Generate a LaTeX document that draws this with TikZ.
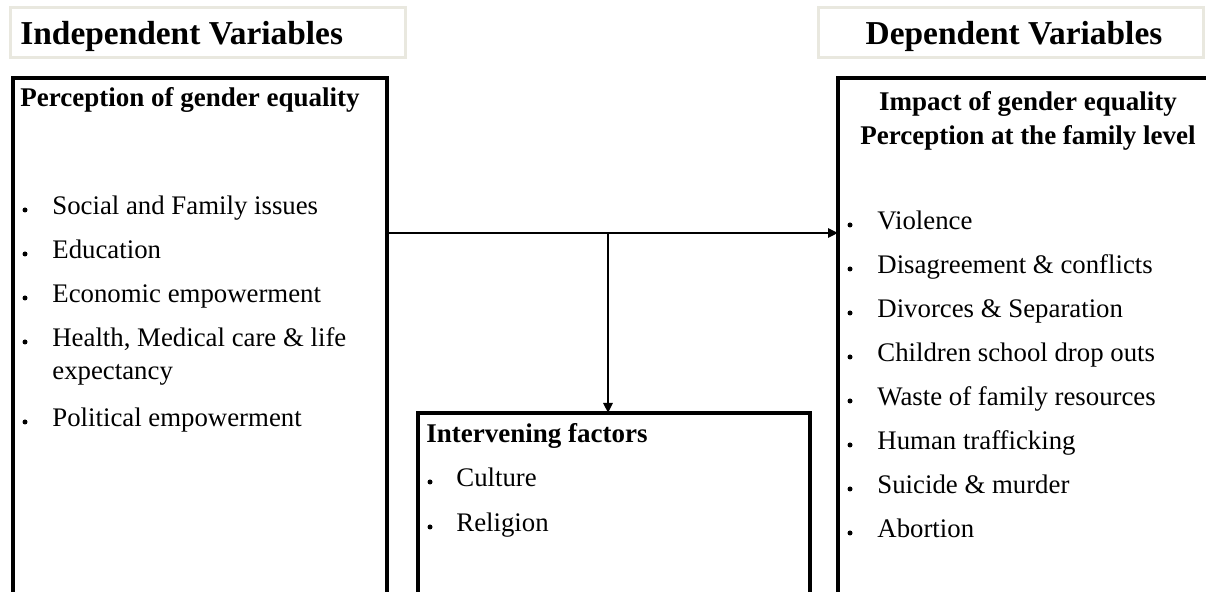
\documentclass[tikz,border=0pt]{standalone}
\usepackage{fontspec}
\setmainfont{Liberation Serif}
\usetikzlibrary{arrows.meta}
\definecolor{rahmengrau}{HTML}{E9E8DF}

\begin{document}
\begin{tikzpicture}[x=0.5pt,y=-0.5pt,
		kasten/.style={draw=black, line width=1.8pt, outer sep=0pt, inner sep=0pt, anchor=north west},
		kopf/.style={draw=rahmengrau, fill=white, line width=1.5pt, outer sep=0pt, inner sep=0pt, anchor=north west, minimum height=25pt},
		titel/.style={font=\fontsize{16.7}{20}\selectfont\bfseries, inner sep=0pt, anchor=base west},
		fett/.style={font=\fontsize{13.5}{17}\selectfont\bfseries, inner sep=0pt},
		eintrag/.style={font=\fontsize{13.4}{16.5}\selectfont, inner sep=0pt, anchor=base west},
		pfeil/.style={line width=1.4pt, -{Triangle[length=5pt,width=4.5pt]}}]
		\useasboundingbox (0,0) rectangle (1206,592);

		% Ueberschriften
		\node[kopf, minimum width=197.5pt] (kopfL) at (10,8) {};
		\node[kopf, minimum width=192.5pt] (kopfR) at (818,8) {};
		\node[titel] (titelL) at (20,45) {Independent Variables};
		\node[titel, anchor=base] (titelR) at (1014,45) {Dependent Variables};

		% Kaesten
		\node[kasten, minimum width=187pt, minimum height=271pt] (unabh) at (13,78) {};
		\node[kasten, minimum width=196pt, minimum height=271pt] (abh) at (838,78) {};
		\node[kasten, minimum width=196pt, minimum height=104pt] (interv) at (418,413) {};

		% Kopfzeilen
		\node[fett, anchor=base west] (kopfUnabh) at (20,107) {Perception of gender equality};
		\node[fett, align=center] (kopfAbh) at (1028,121) {Impact of gender equality\\Perception at the family level};
		\node[fett, anchor=base west] (kopfInterv) at (426,443) {Intervening factors};

		% Listen
		\foreach \y/\txt [count=\i] in {215/Social and Family issues, 259/Education, 303/Economic empowerment, 347/{Health, Medical care \& life}, 427/Political empowerment}{
			\fill (25,\y-5) circle (2.5);
			\node[eintrag] (einU\i) at (52,\y) {\txt};
		}
		\node[eintrag] (einU6) at (52,380) {expectancy};

		\foreach \y/\txt [count=\i] in {230/Violence, 274/Disagreement \& conflicts, 318/Divorces \& Separation, 362/Children school drop outs, 406/Waste of family resources, 450/Human trafficking, 494/Suicide \& murder, 538/Abortion}{
			\fill (850,\y-5) circle (2.5);
			\node[eintrag] (einA\i) at (877,\y) {\txt};
		}

		\foreach \y/\txt [count=\i] in {487/Culture, 532/Religion}{
			\fill (430,\y-5) circle (2.5);
			\node[eintrag] (einI\i) at (456,\y) {\txt};
		}

		% Pfeile
		\coordinate (abzweig) at (608,233);
		\draw[pfeil] (unabh.east |- abzweig) -- (abh.west |- abzweig);
		\draw[pfeil] (abzweig) -- (interv.north -| abzweig);
	\end{tikzpicture}
\end{document}
